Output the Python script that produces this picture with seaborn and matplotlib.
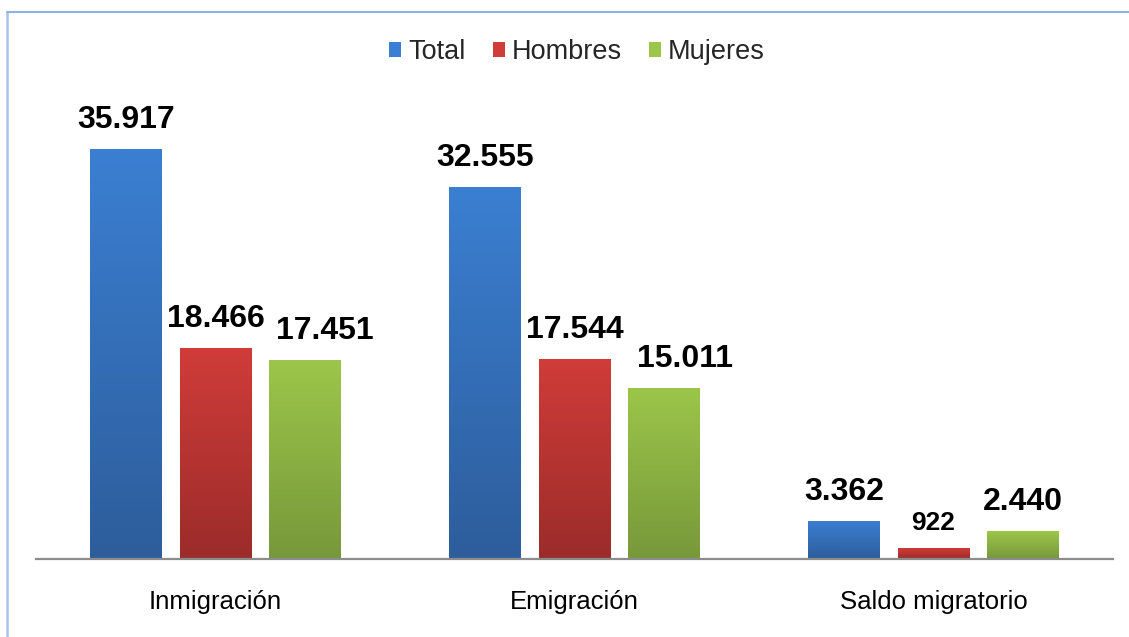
import numpy as np
import pandas as pd
import matplotlib
matplotlib.use("Agg")
import matplotlib.pyplot as plt
import seaborn as sns
from matplotlib.colors import LinearSegmentedColormap
from matplotlib.lines import Line2D
from matplotlib.patches import Rectangle

categories = ["Inmigración", "Emigración", "Saldo migratorio"]
series = ["Total", "Hombres", "Mujeres"]
total = [35917, 32555, 3362]
hombres = [18466, 17544, 922]
mujeres = [17451, 15011, 2440]

top_colors = ["#3b7fd2", "#d03c39", "#9cc64a"]
bot_colors = ["#2d5d9b", "#9b2c2a", "#77983a"]

sns.set_theme(style="white")
plt.rcParams["font.family"] = ["Liberation Sans", "DejaVu Sans"]

df = pd.DataFrame({
    "Categoria": categories * 3,
    "Serie": [s for s in series for _ in categories],
    "Valor": total + hombres + mujeres,
})

fig = plt.figure(figsize=(11.29, 6.37), dpi=100)
ax = fig.add_axes([36 / 1129, 1 - 559 / 637, (1113 - 36) / 1129, 0.7168])

sns.barplot(data=df, x="Categoria", y="Valor", hue="Serie", order=categories,
            hue_order=series, palette=top_colors, width=0.75, gap=0.2,
            ax=ax, legend=False, errorbar=None, saturation=1)

ax.set_ylim(0, 40000)
ax.set_xlim(-0.5, 2.5)

# gradient fill per bar
for ci, container in enumerate(ax.containers):
    cmap = LinearSegmentedColormap.from_list("g", [bot_colors[ci], top_colors[ci]])
    grad = np.linspace(0, 1, 256).reshape(-1, 1)
    for patch in container.patches:
        x0, y0 = patch.get_x(), patch.get_y()
        w, h = patch.get_width(), patch.get_height()
        im = ax.imshow(grad, cmap=cmap, aspect="auto", origin="lower",
                       extent=[x0, x0 + w, y0, y0 + h], zorder=patch.get_zorder() + 0.1)
        im.set_clip_path(patch)

ax.set_xlim(-0.5, 2.5)
ax.set_ylim(0, 40000)

# value labels
x_offsets = [[0, 0, 0], [0, 0, 0], [14, 15, 0]]
for ci, container in enumerate(ax.containers):
    for bi, patch in enumerate(container.patches):
        v = [total, hombres, mujeres][ci][bi]
        txt = f"{v:,}".replace(",", ".")
        fs = 19 if v < 1000 else 23
        ax.annotate(txt, (patch.get_x() + patch.get_width() / 2, patch.get_height()),
                    xytext=(x_offsets[ci][bi], 10), textcoords="offset points",
                    ha="center", va="bottom", fontsize=fs, fontweight="bold",
                    color="black", zorder=5)

ax.set_xlabel("")
ax.set_ylabel("")
ax.set_yticks([])
ax.tick_params(axis="x", length=0, labelsize=18.5, pad=22, colors="black")
for s in ["top", "right", "left"]:
    ax.spines[s].set_visible(False)
ax.spines["bottom"].set_color("#8c8c8c")
ax.spines["bottom"].set_linewidth(1.6)

# legend
handles = [Rectangle((0, 0), 1, 1, facecolor=c, edgecolor="none") for c in top_colors]
fig.legend(handles, series, loc="center", bbox_to_anchor=(0.511, 1 - 52 / 637),
           ncol=3, frameon=False, fontsize=19.5, handlelength=0.45, handleheight=0.45,
           handletextpad=0.25, columnspacing=1.0)

# chart border (top and left visible)
fig.add_artist(Line2D([7 / 1129, 7 / 1129], [0, 1 - 12 / 637], color="#a9c4ec", lw=1.8))
fig.add_artist(Line2D([7 / 1129, 1.0], [1 - 12 / 637, 1 - 12 / 637], color="#8db3e2", lw=1.5))

fig.savefig("out.png", dpi=100)
